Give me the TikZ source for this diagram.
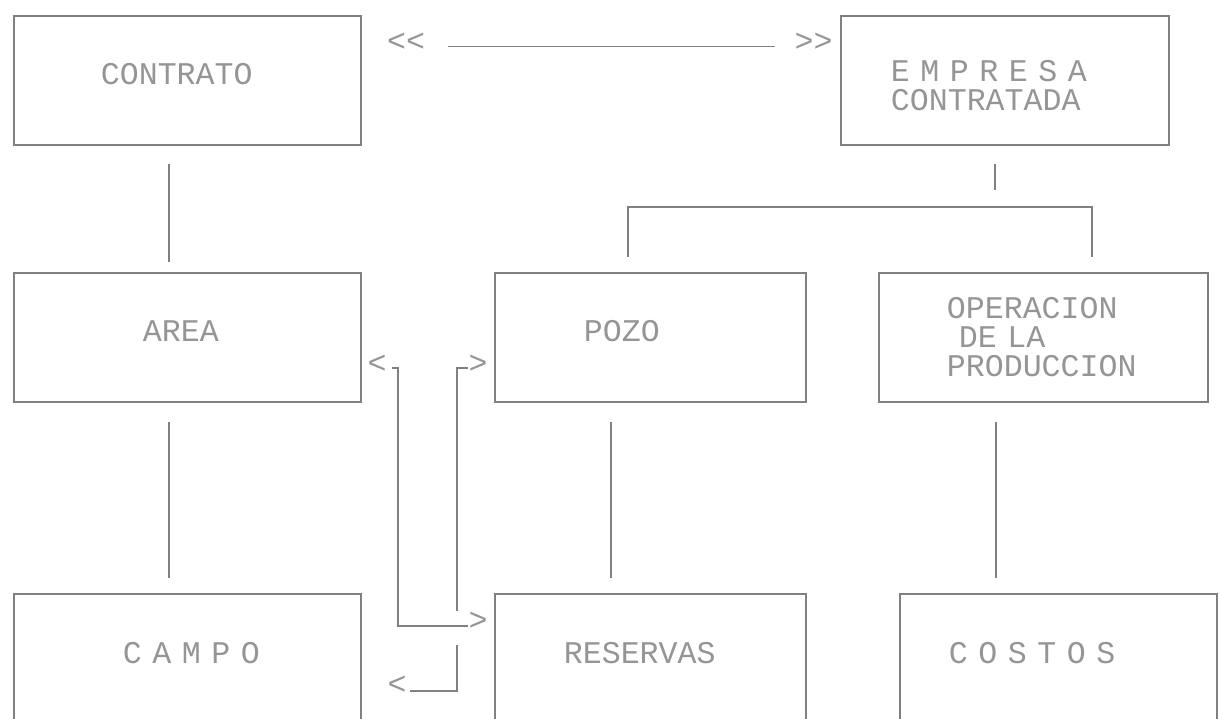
\documentclass[tikz,border=0pt]{standalone}
\usepackage{fontspec}
\usepackage{xcolor}
\usepackage{tikz}
\newfontfamily\dotfont{Liberation Mono}
\definecolor{ink}{HTML}{808080}
\definecolor{inktext}{HTML}{959595}
\tikzset{
  box/.style={draw=ink, line width=0.9pt, anchor=north west, align=left, text=inktext,
    font=\dotfont\fontsize{15.8}{14.5}\selectfont, minimum height=64.5pt},
  lift/.style={text depth=6pt},
  conn/.style={draw=ink, line width=0.9pt},
  head/.style={text=inktext, inner sep=0pt, font=\dotfont\fontsize{15.8}{14.5}\selectfont},
}
\begin{document}
\begin{tikzpicture}[x=0.5pt, y=-0.5pt]
  \useasboundingbox (0,0) rectangle (1220,718);
  \clip (0,0) rectangle (1220,718);

  % boxes
  \node[box, lift, text width=86.5pt, inner xsep=43.5pt] (contrato) at (13,15) {CONTRATO};
  \node[box, text depth=9pt, text width=114pt, inner xsep=25pt] (empresa) at (840,15) {\mbox{E M P R E S A}\\CONTRATADA};
  \node[box, lift, text width=44.5pt, inner xsep=64.5pt] (area) at (13,272) {AREA};
  \node[box, lift, text width=66.5pt, inner xsep=44.5pt] (pozo) at (494,272) {POZO};
  \node[box, text width=96.5pt, inner xsep=34pt] (operacion) at (878,272) {OPERACION\\\hspace*{6pt}DE LA\\PRODUCCION};
  \node[box, lift, minimum height=65pt, text width=64.5pt, inner xsep=54.5pt] (campo) at (13,593) {\mbox{C A M P O}};
  \node[box, lift, minimum height=65pt, text width=86.5pt, inner xsep=34.5pt] (reservas) at (494,593) {RESERVAS};
  \node[box, lift, minimum height=65pt, text width=109.5pt, inner xsep=24.5pt] (costos) at (899,593) {\mbox{C O S T O S}};

  % contrato <-> empresa
  \node[head] (ltop) at (406,42) {<\kern0pt<};
  \node[head] (rtop) at (813.5,42) {>\kern0pt>};
  \draw[conn, shorten <=11.5pt, shorten >=9.75pt] ([yshift=-2.25pt]ltop.east) -- ([yshift=-2.25pt]rtop.west);

  % vertical links
  \foreach \u/\v/\dx/\sa/\sb in {contrato/area/-9.25pt/9pt/5pt, area/campo/-9.25pt/9.5pt/7.5pt, pozo/reservas/-19.75pt/9.5pt/7.5pt}
    \draw[conn, shorten <=\sa, shorten >=\sb] ([xshift=\dx]\u.south) -- ([xshift=\dx]\v.north);
  \coordinate (opx) at ([xshift=-23.75pt]operacion.south);
  \draw[conn, shorten <=9.5pt, shorten >=7.5pt] (opx) -- (opx |- costos.north);

  % empresa fork
  \coordinate (fork) at (995,207);
  \coordinate (brl) at (628,207);
  \coordinate (brr) at (1092,207);
  \draw[conn, shorten <=9pt, shorten >=8.5pt] (empresa.south -| fork) -- (fork);
  \draw[conn, shorten <=7.5pt, shorten >=7.5pt] (pozo.north -| brl) -- (brl) -- (brr) -- (operacion.north -| brr);

  % area <-> reservas, pozo <-> campo
  \node[head] (a1) at (377,364) {<};
  \node[head] (a2) at (478,621) {>};
  \node[head] (b1) at (478,364) {>};
  \node[head] (b2) at (397,685) {<};
  \coordinate (bendA) at (398,626);
  \coordinate (hop) at (457,626);
  \draw[conn, shorten <=2.75pt] ([yshift=-2pt]a1.east) -| (bendA) -- ([yshift=-2.5pt]a2.west);
  \draw[conn, shorten >=7.5pt] ([yshift=-2pt]b1.west) -| (hop);
  \draw[conn, shorten <=9.5pt, shorten >=1.75pt] (hop) |- ([yshift=-3pt]b2.east);
\end{tikzpicture}
\end{document}
